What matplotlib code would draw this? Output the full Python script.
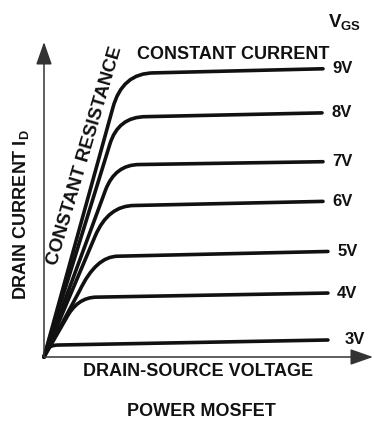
import matplotlib
matplotlib.use("Agg")
import matplotlib.pyplot as plt
from matplotlib.path import Path
from matplotlib.patches import PathPatch

plt.rcParams['font.family'] = ['Liberation Sans', 'DejaVu Sans']
plt.rcParams['font.weight'] = 'bold'
plt.rcParams['mathtext.fontset'] = 'custom'
plt.rcParams['mathtext.rm'] = 'Liberation Sans:bold'
plt.rcParams['mathtext.it'] = 'Liberation Sans:bold'

# Gate voltages and the shape of each output characteristic (arbitrary units)
vgs_labels = ["9V", "8V", "7V", "6V", "5V", "4V", "3V"]
# end of the steep (ohmic) part
ohmic_v = [2.09, 2.00, 1.87, 1.56, 1.08, 0.66, 0.06]
ohmic_i = [7.90, 6.75, 5.30, 3.85, 2.10, 1.20, 0.19]
# knee corner and start of the flat (saturation) part
knee_v = [2.37, 2.25, 2.16, 1.95, 1.58, 1.00, 0.15]
sat_v = [3.35, 3.10, 2.90, 2.75, 2.25, 1.60, 0.43]
sat_i = [9.02, 7.63, 6.11, 4.81, 3.20, 1.90, 0.38]
# right-hand end of each curve
end_v = [8.48, 8.45, 8.48, 8.48, 8.63, 8.63, 8.63]
end_i = [9.15, 7.75, 6.20, 4.94, 3.35, 2.03, 0.54]

INK = "#111111"

fig = plt.figure(figsize=(3.74, 4.22), dpi=100)
ax = fig.add_axes([44 / 374, 1 - 357 / 422, 329 / 374, 315 / 422])
ax.set_xlim(0, 10)
ax.set_ylim(0, 10)
ax.axis('off')

# axes drawn as arrows
arrow = dict(arrowstyle='-|>,head_length=1.0,head_width=0.35', mutation_scale=14,
             lw=1.1, color='#333333', shrinkA=0, shrinkB=0)
ax.annotate('', xy=(0, 10), xytext=(0, 0), arrowprops=arrow, annotation_clip=False)
ax.annotate('', xy=(10, 0), xytext=(0, 0), arrowprops=arrow, annotation_clip=False)

for i, lab in enumerate(vgs_labels):
    verts = [(0, 0), (ohmic_v[i], ohmic_i[i]), (knee_v[i], sat_i[i]),
             (sat_v[i], sat_i[i]), (end_v[i], end_i[i])]
    codes = [Path.MOVETO, Path.LINETO, Path.CURVE3, Path.CURVE3, Path.LINETO]
    patch = PathPatch(Path(verts, codes), fill=False, lw=2.6, edgecolor=INK,
                      capstyle='round', joinstyle='round', clip_on=False)
    ax.add_patch(patch)
    dx = 0.5 if lab == "3V" else 0.28
    ax.text(end_v[i] + dx, end_i[i], lab, ha='left', va='center',
            fontsize=12, color=INK, clip_on=False)

ax.text(5.74, 9.59, "CONSTANT CURRENT", ha='center', va='center',
        fontsize=13, color=INK, clip_on=False)
ax.text(1.26, 6.4, "CONSTANT RESISTANCE", ha='center', va='center',
        rotation=73.5, rotation_mode='anchor', fontsize=13.5, color=INK, clip_on=False)

fig.text(345 / 374, 1 - 22 / 422, r"V$_{\mathrm{GS}}$", ha='center', va='center',
         fontsize=13.5, color=INK)
fig.text(21 / 374, 1 - 215 / 422, r"DRAIN CURRENT I$_{\mathrm{D}}$", ha='center',
         va='center', rotation=90, fontsize=13, color=INK)
fig.text(198 / 374, 1 - 372 / 422, "DRAIN-SOURCE VOLTAGE", ha='center', va='center',
         fontsize=13, color=INK)
fig.text(201 / 374, 1 - 412 / 422, "POWER MOSFET", ha='center', va='center',
         fontsize=13, color=INK)

fig.savefig("out.png", dpi=100, facecolor='white')
